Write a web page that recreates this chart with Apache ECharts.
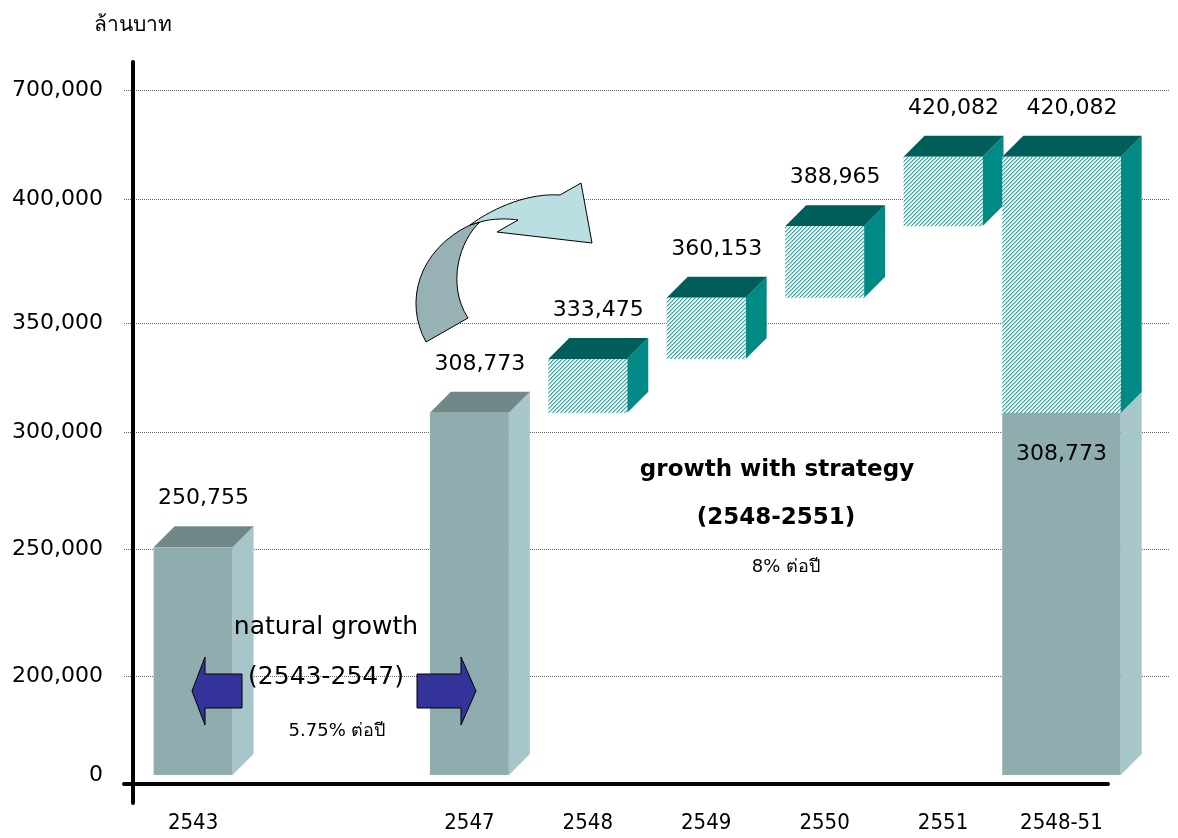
<!DOCTYPE html>
<html>
<head>
<meta charset="utf-8">
<title>growth</title>
<script src="https://cdn.jsdelivr.net/npm/echarts@6.0.0/dist/echarts.min.js"></script>
<style>
  html, body { margin: 0; padding: 0; background: #fff; }
  #chart { width: 1178px; height: 838px; }
</style>
</head>
<body>
<div id="chart"></div>
<script>
// ---- data ----
const years = ['2543', '2547', '2548', '2549', '2550', '2551', '2548-51'];
const naturalValues = [250755, 308773, null, null, null, null, 308773];
const strategyFrom = [null, null, 308773, 333475, 360153, 388965, 308773];
const strategyTo = [null, null, 333475, 360153, 388965, 420082, 420082];
const yTicks = [0, 200000, 250000, 300000, 350000, 400000, 700000];

// ---- layout ----
// the value axis is broken: real value -> height (px) above the x axis line
const axisScale = [[0, 9], [200000, 108], [250000, 235], [300000, 352], [350000, 461], [400000, 585], [430000, 648], [700000, 694]];
const slotCount = 53;
const slotOf = [3, 17, 23, 29, 35, 41, 47];
const barSlots = [4, 4, 4, 4, 4, 4, 6];
const DEPTH = 21;
const FONT = '"DejaVu Sans", "Noto Sans", sans-serif';

function toAxis(v) {
  for (let i = 1; i < axisScale.length; i++) {
    const a = axisScale[i - 1], b = axisScale[i];
    if (v <= b[0]) return a[1] + (v - a[0]) / (b[0] - a[0]) * (b[1] - a[1]);
  }
  return axisScale[axisScale.length - 1][1];
}
const fmt = v => Number(v).toLocaleString('en-US');

const categories = new Array(slotCount).fill('');
slotOf.forEach((s, i) => { categories[s] = years[i]; });
const tickPos = yTicks.map(toAxis);
// no dotted grid line on the zero tick
const gridPos = tickPos.filter((p, i) => yTicks[i] !== 0);

// hatch fill for the strategy boxes
const hatch = document.createElement('canvas');
hatch.width = hatch.height = 4;
const hctx = hatch.getContext('2d');
hctx.fillStyle = '#ffffff';
hctx.fillRect(0, 0, 4, 4);
for (let x = 0; x < 4; x++) {
  for (let y = 0; y < 4; y++) {
    const k = (x + y) % 4;
    if (k === 0) { hctx.fillStyle = '#34a9a4'; hctx.fillRect(x, y, 1, 1); }
    if (k === 1) { hctx.fillStyle = '#92d2cf'; hctx.fillRect(x, y, 1, 1); }
  }
}

const naturalItems = [];
const strategyItems = [];
years.forEach((y, i) => {
  if (naturalValues[i] != null) {
    naturalItems.push([slotOf[i], 0, naturalValues[i], barSlots[i], strategyFrom[i] === naturalValues[i] ? 1 : 0]);
  }
  if (strategyTo[i] != null) {
    strategyItems.push([slotOf[i], strategyFrom[i], strategyTo[i], barSlots[i], 0]);
  }
});

function boxRenderer(face) {
  return function (params, api) {
    const slot = api.value(0);
    const lo = api.coord([slot, toAxis(api.value(1))]);
    const hi = api.coord([slot, toAxis(api.value(2))]);
    const w = api.size([1, 0])[0] * api.value(3);
    const xl = lo[0] - w / 2, xr = lo[0] + w / 2;
    const yT = hi[1], yB = lo[1], d = DEPTH;
    const inside = api.value(4) === 1;
    return {
      type: 'group',
      children: [
        { type: 'polygon', shape: { points: [[xr, yT], [xr + d, yT - d], [xr + d, yB - d], [xr, yB]] }, style: { fill: face.side } },
        { type: 'polygon', shape: { points: [[xl, yT], [xl + d, yT - d], [xr + d, yT - d], [xr, yT]] }, style: { fill: face.top } },
        { type: 'rect', shape: { x: xl, y: yT, width: w, height: yB - yT }, style: { fill: face.front } },
        {
          type: 'text',
          style: {
            text: fmt(api.value(2)),
            x: inside ? lo[0] : lo[0] + d / 2,
            y: inside ? yT + 41 : yT - d - 28,
            align: 'center', verticalAlign: 'middle',
            font: '22px ' + FONT, fill: '#000'
          }
        }
      ]
    };
  };
}

// sample a chain of cubic curves / straight lines into polygon points
function outline(start, segs) {
  const pts = [start];
  let p0 = start;
  segs.forEach(s => {
    if (s.length === 1) { pts.push(s[0]); p0 = s[0]; return; }
    const [c1, c2, p3] = s;
    for (let k = 1; k <= 16; k++) {
      const t = k / 16, u = 1 - t;
      pts.push([
        u * u * u * p0[0] + 3 * u * u * t * c1[0] + 3 * u * t * t * c2[0] + t * t * t * p3[0],
        u * u * u * p0[1] + 3 * u * u * t * c1[1] + 3 * u * t * t * c2[1] + t * t * t * p3[1]
      ]);
    }
    p0 = p3;
  });
  return pts;
}

function txt(text, x, y, size, bold) {
  return {
    type: 'text', x: x, y: y, z: 50,
    style: {
      text: text, align: 'center', verticalAlign: 'middle', textAlign: 'center', textVerticalAlign: 'middle',
      font: (bold ? 'bold ' : '') + size + 'px ' + FONT, fill: '#000'
    }
  };
}

const chart = echarts.init(document.getElementById('chart'));
chart.setOption({
  animation: false,
  backgroundColor: '#fff',
  grid: [
    { left: 124, right: 8, top: 62, bottom: 35, outerBoundsMode: 'none', containLabel: false },
    { left: 124, right: 70, top: 62, bottom: 54, outerBoundsMode: 'none', containLabel: false }
  ],
  xAxis: [{
    type: 'category', gridIndex: 0, data: categories,
    axisLine: { show: false, onZero: false },
    axisTick: { show: false },
    axisLabel: { interval: 0, margin: 9, fontSize: 22, color: '#000', fontFamily: '"DejaVu Sans Condensed", "Liberation Sans Narrow", sans-serif' },
    splitLine: { show: false }
  }, {
    type: 'value', gridIndex: 1, min: 0, max: 1,
    axisLine: { show: true, onZero: false, lineStyle: { color: '#000', width: 4 } },
    axisTick: { show: false }, axisLabel: { show: false }, splitLine: { show: false }
  }],
  yAxis: [{
    type: 'value', gridIndex: 0, min: -19, max: 722, offset: -9,
    name: 'ล้านบาท', nameLocation: 'end', nameGap: 26,
    nameTextStyle: { fontSize: 21, color: '#000', fontFamily: FONT, align: 'center' },
    axisLine: { show: true, lineStyle: { color: '#000', width: 4 } },
    axisTick: { show: false, customValues: gridPos },
    axisLabel: {
      customValues: tickPos, margin: 30, fontSize: 22, color: '#000', fontFamily: FONT,
      formatter: v => {
        const k = tickPos.findIndex(p => Math.abs(p - v) < 0.01);
        return k < 0 ? '' : fmt(yTicks[k]);
      }
    },
    splitLine: { show: true, lineStyle: { type: 'dotted', color: '#666', width: 1 } }
  }, {
    type: 'value', gridIndex: 1, show: false, min: 0, max: 1, splitLine: { show: false }
  }],
  series: [{
    name: 'natural', type: 'custom', xAxisIndex: 0, yAxisIndex: 0,
    renderItem: boxRenderer({ front: '#8fadae', side: '#a7c6c9', top: '#718788' }),
    data: naturalItems
  }, {
    name: 'strategy', type: 'custom', xAxisIndex: 0, yAxisIndex: 0,
    renderItem: boxRenderer({ front: { image: hatch, repeat: 'repeat' }, side: '#008a85', top: '#005e5a' }),
    data: strategyItems
  }],
  graphic: [
    {
      type: 'polygon', z: 40,
      shape: { points: outline([426, 342], [[[404, 302], [418, 250], [470, 225]], [[480, 222]], [[460, 240], [446, 284], [468, 318]]]) },
      style: { fill: '#97b1b4', stroke: '#000', lineWidth: 1 }
    },
    {
      type: 'polygon', z: 40,
      shape: { points: outline([470, 225], [[[496, 206], [530, 193], [560, 195]], [[581, 183]], [[592, 243]], [[497, 232]], [[518, 220]], [[505, 218], [490, 219], [480, 222]]]) },
      style: { fill: '#b9dfe2', stroke: '#000', lineWidth: 1 }
    },
    {
      type: 'polygon', z: 40,
      shape: { points: [[192, 691], [205, 657], [205, 674], [242, 674], [242, 708], [205, 708], [205, 725]] },
      style: { fill: '#333399', stroke: '#000', lineWidth: 1 }
    },
    {
      type: 'polygon', z: 40,
      shape: { points: [[417, 674], [461, 674], [461, 657], [476, 691], [461, 725], [461, 708], [417, 708]] },
      style: { fill: '#333399', stroke: '#000', lineWidth: 1 }
    },
    txt('natural growth', 326, 627, 25, false),
    txt('(2543-2547)', 326, 677, 25, false),
    txt('5.75% ต่อปี', 337, 731, 18, false),
    txt('growth with strategy', 777, 470, 23, true),
    txt('(2548-2551)', 776, 518, 23, true),
    txt('8% ต่อปี', 786, 567, 18, false)
  ]
});
</script>
</body>
</html>
